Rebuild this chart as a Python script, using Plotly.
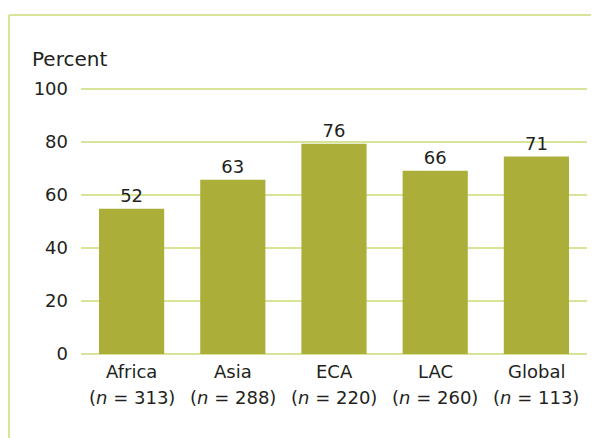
import plotly.graph_objects as go

regions = ["Africa", "Asia", "ECA", "LAC", "Global"]
sample_n = [313, 288, 220, 260, 113]
bar_heights = [54.8, 65.8, 79.4, 69.2, 74.5]
value_labels = ["52", "63", "76", "66", "71"]
y_ticks = [0, 20, 40, 60, 80, 100]

FONT = "DejaVu Sans"
INK = "#231f20"
BAR = "#abaf3a"
GRID = "#d8e497"

fig = go.Figure(go.Bar(
    x=regions, y=bar_heights, width=0.644,
    marker=dict(color=BAR, line=dict(width=0)),
    text=value_labels, textposition="outside", cliponaxis=False,
    textfont=dict(family=FONT, size=18, color=INK),
))

# page is offset by the 8px body margin
W, H = 591, 430
L, R, T, B = 73, 12, 80, 83
pw, ph = W - L - R, H - T - B

def px(x):
    return (x - 8 - L) / pw

def py(y):
    return (H - B - (y - 8)) / ph

annotations = [dict(text="Percent", xref="paper", yref="paper",
                    x=px(30), y=py(59), xanchor="left", yanchor="middle",
                    showarrow=False,
                    font=dict(family=FONT, size=20, color=INK))]
for r, n in zip(regions, sample_n):
    annotations.append(dict(text=r, x=r, xref="x", yref="paper", y=py(371),
                            xanchor="center", yanchor="middle", showarrow=False,
                            font=dict(family=FONT, size=18, color=INK)))
    annotations.append(dict(text=f"(<i>n</i> = {n})", x=r, xref="x", yref="paper",
                            y=py(397), xanchor="center", yanchor="middle",
                            showarrow=False,
                            font=dict(family=FONT, size=18, color=INK)))

fig.update_layout(
    width=W, height=H,
    margin=dict(l=L, r=R, t=T, b=B, pad=0),
    plot_bgcolor="white", paper_bgcolor="white",
    showlegend=False,
    font=dict(family=FONT, size=18, color=INK),
    xaxis=dict(showticklabels=False, showgrid=False, zeroline=False,
               showline=False, range=[-0.5, 4.5]),
    yaxis=dict(range=[-0.4, 100.4], tickvals=y_ticks, showgrid=True,
               gridcolor=GRID, gridwidth=2, zeroline=False, showline=False,
               ticklabelstandoff=12,
               tickfont=dict(family=FONT, size=18, color=INK)),
    annotations=annotations,
    shapes=[
        dict(type="line", xref="paper", yref="paper",
             x0=px(9), x1=px(620), y0=py(15), y1=py(15),
             line=dict(color=GRID, width=2)),
        dict(type="line", xref="paper", yref="paper",
             x0=px(9), x1=px(9), y0=py(15), y1=py(460),
             line=dict(color=GRID, width=2)),
    ],
)

fig.write_html("out.html")
